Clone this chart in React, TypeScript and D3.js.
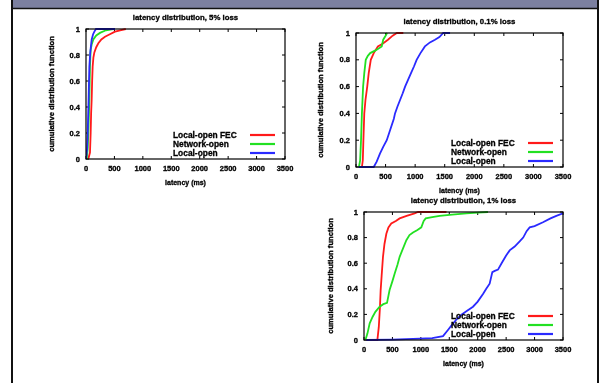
import React from "react";
import * as d3 from "d3";

// latency (ms), cumulative fraction
const xTicks = [0, 500, 1000, 1500, 2000, 2500, 3000, 3500];
const yTicks = [0, 0.2, 0.4, 0.6, 0.8, 1];
const yTickLabels = ["0", "0.2", "0.4", "0.6", "0.8", "1"];
const seriesNames = ["Local-open FEC", "Network-open", "Local-open"];
const seriesColors = ["#ff1a1a", "#22e022", "#2a2aff"];

const fec5: [number, number][] = [
  [40, 0], [70, 0.05], [82, 0.2], [90, 0.35], [100, 0.46], [108, 0.6], [117, 0.71],
  [130, 0.78], [147, 0.82], [180, 0.86], [217, 0.89], [270, 0.92], [334, 0.94],
  [420, 0.96], [510, 0.98], [600, 0.99], [700, 1],
];
const net5: [number, number][] = [
  [12, 0], [30, 0.08], [41, 0.2], [50, 0.33], [59, 0.46], [65, 0.6], [70, 0.71],
  [76, 0.78], [82, 0.84], [100, 0.88], [129, 0.92], [180, 0.95], [246, 0.97],
  [350, 0.99], [481, 1],
];
const loc5: [number, number][] = [
  [0, 0], [20, 0.08], [30, 0.2], [45, 0.45], [59, 0.71], [75, 0.82], [100, 0.92],
  [125, 0.96], [147, 0.98], [176, 1], [510, 1],
];

const fec01: [number, number][] = [
  [100, 0], [115, 0.05], [125, 0.2], [140, 0.4], [160, 0.5], [190, 0.6], [215, 0.7],
  [250, 0.8], [300, 0.85], [370, 0.9], [450, 0.92], [540, 0.95], [620, 0.98],
  [690, 1], [800, 1],
];
const net01: [number, number][] = [
  [50, 0], [70, 0.05], [85, 0.2], [100, 0.4], [120, 0.6], [140, 0.7], [165, 0.8],
  [200, 0.83], [240, 0.85], [330, 0.87], [435, 0.9], [460, 0.95], [500, 0.98], [525, 1],
];
const loc01: [number, number][] = [
  [50, 0], [300, 0], [350, 0.04], [405, 0.1], [460, 0.15], [520, 0.2], [580, 0.28],
  [640, 0.36], [660, 0.4], [700, 0.45], [745, 0.5], [790, 0.55], [830, 0.6],
  [880, 0.65], [930, 0.7], [980, 0.75], [1025, 0.8], [1090, 0.85], [1165, 0.9],
  [1250, 0.93], [1335, 0.95], [1410, 0.97], [1475, 1], [1590, 1],
];

const fec1: [number, number][] = [
  [40, 0], [235, 0], [260, 0.1], [280, 0.25], [293, 0.39], [310, 0.5], [334, 0.65],
  [360, 0.75], [393, 0.83], [430, 0.88], [480, 0.91], [560, 0.93], [627, 0.95],
  [750, 0.97], [890, 0.99], [950, 1], [1450, 1],
];
const net1: [number, number][] = [
  [25, 0], [60, 0.05], [100, 0.13], [150, 0.18], [200, 0.22], [275, 0.26], [340, 0.28],
  [405, 0.29], [450, 0.39], [500, 0.46], [540, 0.52], [590, 0.59], [627, 0.65],
  [690, 0.72], [745, 0.78], [800, 0.82], [862, 0.84], [940, 0.86], [1008, 0.88],
  [1050, 0.93], [1085, 0.95], [1200, 0.96], [1330, 0.97], [1550, 0.98], [1800, 0.99],
  [2000, 0.995], [2180, 1],
];
const loc1: [number, number][] = [
  [40, 0], [500, 0.003], [980, 0.01], [1200, 0.015], [1390, 0.03], [1480, 0.08],
  [1550, 0.12], [1625, 0.16], [1720, 0.2], [1820, 0.23], [1917, 0.26], [2000, 0.3],
  [2093, 0.36], [2150, 0.4], [2210, 0.44], [2257, 0.53], [2300, 0.54], [2357, 0.55],
  [2420, 0.6], [2500, 0.66], [2562, 0.7], [2650, 0.73], [2738, 0.77], [2800, 0.8],
  [2860, 0.85], [2914, 0.88], [3000, 0.89], [3148, 0.92], [3280, 0.95], [3383, 0.97],
  [3500, 0.99],
];

const panels = [
  { title: "latency distribution, 5% loss", left: 86, top: 29, w: 199, h: 130, series: [fec5, net5, loc5], yLabX: 51 },
  { title: "latency distribution, 0.1% loss", left: 356, top: 33, w: 207, h: 134, series: [fec01, net01, loc01], yLabX: 320 },
  { title: "latency distribution, 1% loss", left: 364, top: 212, w: 199, h: 128, series: [fec1, net1, loc1], yLabX: 330 },
];

const font = "'Liberation Sans', Arial, sans-serif";

function Panel({ p }: { p: (typeof panels)[number] }) {
  const x = d3.scaleLinear().domain([0, 3500]).range([p.left, p.left + p.w]);
  const y = d3.scaleLinear().domain([0, 1]).range([p.top + p.h, p.top]);
  const line = d3
    .line<[number, number]>()
    .x((d) => x(d[0]))
    .y((d) => y(d[1]));
  const right = p.left + p.w;
  const bottom = p.top + p.h;
  const txt = {
    fontFamily: font,
    fontWeight: 700,
    fill: "#000",
    stroke: "#000",
    strokeWidth: 0.3,
    filter: "url(#soft)",
  } as const;

  return (
    <g>
      <clipPath id={`clip-${p.left}-${p.top}`}>
        <rect x={p.left} y={p.top - 2} width={p.w} height={p.h + 4} />
      </clipPath>
      <text x={p.left + p.w / 2} y={p.top - 12} textAnchor="middle" dominantBaseline="central" fontSize={7.8} {...txt}>
        {p.title}
      </text>
      {xTicks.map((t) => (
        <g key={t}>
          <line x1={x(t)} x2={x(t)} y1={bottom} y2={bottom - 3} stroke="#000" />
          <line x1={x(t)} x2={x(t)} y1={p.top} y2={p.top + 3} stroke="#000" />
          <text x={x(t)} y={bottom + 9.5} textAnchor="middle" dominantBaseline="central" fontSize={7.5} {...txt}>
            {t}
          </text>
        </g>
      ))}
      {yTicks.map((t, i) => (
        <g key={t}>
          <line x1={p.left} x2={p.left + 3} y1={y(t)} y2={y(t)} stroke="#000" />
          <line x1={right} x2={right - 3} y1={y(t)} y2={y(t)} stroke="#000" />
          <text x={p.left - 6} y={y(t)} textAnchor="end" dominantBaseline="central" fontSize={7.5} {...txt}>
            {yTickLabels[i]}
          </text>
        </g>
      ))}
      <text x={p.left + p.w / 2} y={bottom + 23} textAnchor="middle" dominantBaseline="central" fontSize={7} {...txt}>
        latency (ms)
      </text>
      <text
        transform={`translate(${p.yLabX},${p.top + p.h / 2}) rotate(-90)`}
        textAnchor="middle"
        dominantBaseline="central"
        fontSize={7.6}
        {...txt}
      >
        cumulative distribution function
      </text>
      <g clipPath={`url(#clip-${p.left}-${p.top})`}>
        {p.series.map((s, i) => (
          <path key={i} d={line(s) || ""} fill="none" stroke={seriesColors[i]} strokeWidth={1.8} />
        ))}
      </g>
      {seriesNames.map((n, i) => {
        const ly = bottom - 24 + i * 9;
        return (
          <g key={n}>
            <text x={right - 112} y={ly} dominantBaseline="central" fontSize={8.4} {...txt}>
              {n}
            </text>
            <line x1={right - 35} x2={right - 10} y1={ly} y2={ly} stroke={seriesColors[i]} strokeWidth={2.2} />
          </g>
        );
      })}
      <rect x={p.left} y={p.top} width={p.w} height={p.h} fill="none" stroke="#000" strokeWidth={1.2} />
    </g>
  );
}

export default function App() {
  return (
    <svg width={600} height={383} style={{ position: "absolute", left: 0, top: 0, background: "#fff" }}>
      <defs>
        <filter id="soft" x="-5%" y="-20%" width="110%" height="140%">
          <feGaussianBlur stdDeviation={0.4} />
        </filter>
      </defs>
      <rect x={0} y={0} width={600} height={383} fill="#fff" />
      <rect x={11} y={0} width={588} height={8} fill="#7c80a0" />
      <line x1={11} x2={599} y1={8.5} y2={8.5} stroke="#111" strokeWidth={1.5} />
      <line x1={12} x2={12} y1={0} y2={383} stroke="#111" strokeWidth={2} />
      <line x1={598} x2={598} y1={0} y2={383} stroke="#111" strokeWidth={2} />
      {panels.map((p) => (
        <Panel key={p.title} p={p} />
      ))}
    </svg>
  );
}
